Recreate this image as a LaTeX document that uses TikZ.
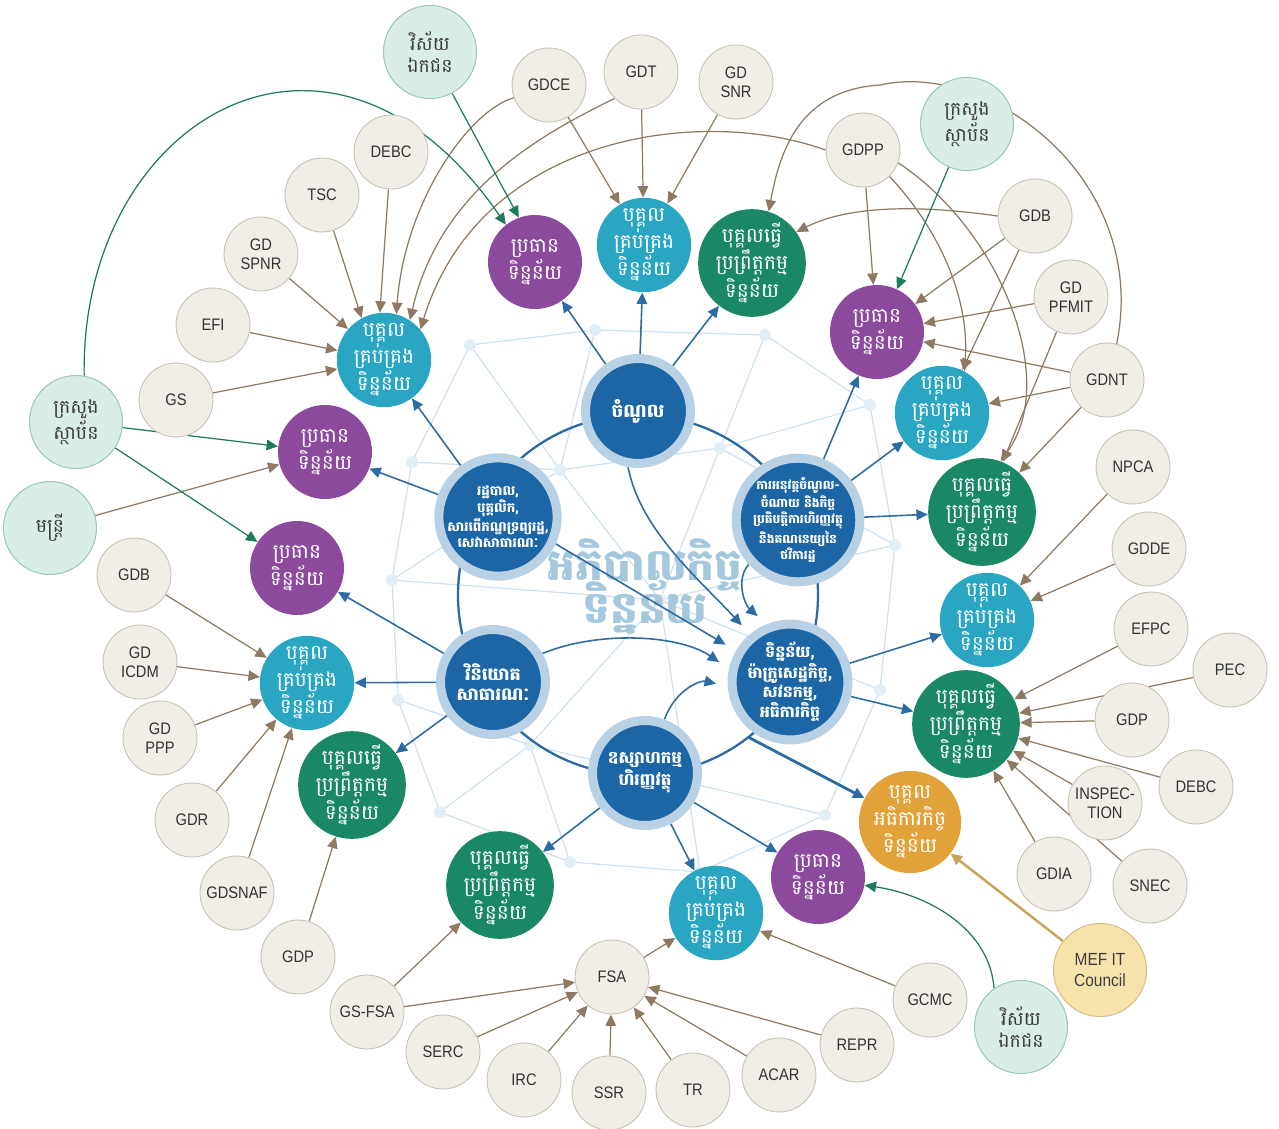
\documentclass[tikz,border=0pt]{standalone}
\usepackage{fontspec}
\setmainfont{Liberation Sans}
\newfontfamily\khmer[Script=Khmer]{Battambang}
\newfontfamily\deptfont[FakeStretch=0.88]{Liberation Sans}
\usetikzlibrary{arrows.meta,backgrounds}

\definecolor{hubblue}{HTML}{1C66A6}
\definecolor{hubring}{HTML}{B8D1E5}
\definecolor{ringline}{HTML}{2A68A8}
\definecolor{ownerpurple}{HTML}{8B4A9C}
\definecolor{stewardcyan}{HTML}{2AA6C3}
\definecolor{procgreen}{HTML}{1A8866}
\definecolor{inspgold}{HTML}{E2A23A}
\definecolor{outfill}{HTML}{DBEEE5}
\definecolor{outline}{HTML}{9CCAB8}
\definecolor{outtext}{HTML}{3D3D3D}
\definecolor{deptfill}{HTML}{F1EEE8}
\definecolor{deptline}{HTML}{C8C2B6}
\definecolor{depttext}{HTML}{333333}
\definecolor{arrowbrown}{HTML}{8E7A63}
\definecolor{arrowgreen}{HTML}{1D7A5F}
\definecolor{arrowblue}{HTML}{2C6CA3}
\definecolor{councilgold}{HTML}{C6A45A}
\definecolor{councilfill}{HTML}{F6E3AB}
\definecolor{meshblue}{HTML}{CFE2EF}
\definecolor{wmblue}{HTML}{A6C8DC}

\begin{document}
\begin{tikzpicture}[x=0.02cm,y=-0.02cm,
  hub/.style={circle,fill=hubblue,draw=hubring,line width=0.18cm,minimum size=2.1cm,
    inner sep=0pt,align=center,text=white,font=\khmer\bfseries\fontsize{9}{11}\selectfont},
  role/.style={circle,minimum size=1.88cm,inner sep=0pt,align=center,text=white,
    font=\khmer\fontsize{11.5}{12.5}\selectfont},
  owner/.style={role,fill=ownerpurple},
  steward/.style={role,fill=stewardcyan},
  processor/.style={role,fill=procgreen},
  inspector/.style={role,fill=inspgold},
  outside/.style={circle,minimum size=1.86cm,inner sep=0pt,align=center,fill=outfill,
    draw=outline,line width=0.6pt,text=outtext,font=\khmer\fontsize{10.8}{13}\selectfont},
  council/.style={outside,fill=councilfill,draw=councilgold!70,
    font=\deptfont\fontsize{10}{12}\selectfont},
  dept/.style={circle,minimum size=1.48cm,inner sep=0pt,align=center,fill=deptfill,
    draw=deptline,line width=0.5pt,text=depttext,font=\deptfont\fontsize{9.5}{11}\selectfont},
  deptarrow/.style={draw=arrowbrown,line width=0.7pt,-{Triangle[length=6.5pt,width=6pt]}},
  outarrow/.style={deptarrow,draw=arrowgreen},
  hubarrow/.style={deptarrow,draw=arrowblue,line width=0.9pt},
  councilarrow/.style={deptarrow,draw=councilgold,line width=1.4pt},
  mesh/.style={draw=meshblue,line width=0.7pt}]

\useasboundingbox (0,0) rectangle (1279,1129);

\node[hub,font=\khmer\bfseries\fontsize{10.5}{12}\selectfont] (rev) at (638,411) {ចំណូល};
\node[hub,font=\khmer\bfseries\fontsize{7.6}{9.4}\selectfont] (adm) at (498,517)
  {រដ្ឋបាល,\\បុគ្គលិក,\\សារពើភណ្ឌទ្រព្យរដ្ឋ,\\សេវាសាធារណៈ};
\node[hub,font=\khmer\bfseries\fontsize{7}{7.6}\selectfont] (exe) at (798,520)
  {ការអនុវត្តចំណូល-\\ចំណាយ និងកិច្ច\\ប្រតិបត្តិការហិរញ្ញវត្ថុ\\និងគណនេយ្យនៃ\\ថវិការដ្ឋ};
\node[hub,font=\khmer\bfseries\fontsize{10}{11}\selectfont] (inv) at (493,682) {វិនិយោគ\\សាធារណៈ};
\node[hub,minimum size=2.16cm,font=\khmer\bfseries\fontsize{9}{10.6}\selectfont] (dat) at (790,682)
  {ទិន្នន័យ,\\ម៉ាក្រូសេដ្ឋកិច្ច,\\សវនកម្ម,\\អធិការកិច្ច};
\node[hub,font=\khmer\bfseries\fontsize{9.5}{11}\selectfont] (fin) at (645,773) {ឧស្សាហកម្ម\\ហិរញ្ញវត្ថុ};

\node[owner] (ownA) at (535,262) {ប្រធាន\\ទិន្នន័យ};
\node[owner] (ownB) at (877,332) {ប្រធាន\\ទិន្នន័យ};
\node[owner] (ownC) at (325,452) {ប្រធាន\\ទិន្នន័យ};
\node[owner] (ownD) at (297,568) {ប្រធាន\\ទិន្នន័យ};
\node[owner] (ownE) at (818,877) {ប្រធាន\\ទិន្នន័យ};

\node[steward] (stwA) at (644,245) {បុគ្គល\\គ្រប់គ្រង\\ទិន្នន័យ};
\node[steward] (stwB) at (384,360) {បុគ្គល\\គ្រប់គ្រង\\ទិន្នន័យ};
\node[steward] (stwC) at (942,413) {បុគ្គល\\គ្រប់គ្រង\\ទិន្នន័យ};
\node[steward] (stwD) at (987,620) {បុគ្គល\\គ្រប់គ្រង\\ទិន្នន័យ};
\node[steward] (stwE) at (307,683) {បុគ្គល\\គ្រប់គ្រង\\ទិន្នន័យ};
\node[steward] (stwF) at (716,913) {បុគ្គល\\គ្រប់គ្រង\\ទិន្នន័យ};

\node[processor] (prcA) at (752,263) {បុគ្គលធ្វើ\\ប្រព្រឹត្តកម្ម\\ទិន្នន័យ};
\node[processor] (prcB) at (982,512) {បុគ្គលធ្វើ\\ប្រព្រឹត្តកម្ម\\ទិន្នន័យ};
\node[processor] (prcC) at (966,724) {បុគ្គលធ្វើ\\ប្រព្រឹត្តកម្ម\\ទិន្នន័យ};
\node[processor] (prcD) at (352,785) {បុគ្គលធ្វើ\\ប្រព្រឹត្តកម្ម\\ទិន្នន័យ};
\node[processor] (prcE) at (500,885) {បុគ្គលធ្វើ\\ប្រព្រឹត្តកម្ម\\ទិន្នន័យ};

\node[inspector] (insp) at (910,822) {បុគ្គល\\អធិការកិច្ច\\ទិន្នន័យ};

\node[outside] (pvtA) at (430,52) {វិស័យ\\ឯកជន};
\node[outside] (minA) at (967,124) {ក្រសួង\\ស្ថាប័ន};
\node[outside] (minB) at (76,422) {ក្រសួង\\ស្ថាប័ន};
\node[outside] (off) at (50,528) {មន្ត្រី};
\node[outside] (pvtB) at (1021,1027) {វិស័យ\\ឯកជន};
\node[council] (mef) at (1100,970) {MEF IT\\Council};

\node[dept] (gdce) at (549,85) {GDCE};
\node[dept] (gdt) at (641,72) {GDT};
\node[dept] (gdsnr) at (736,82) {GD\\SNR};
\node[dept] (gdpp) at (863,150) {GDPP};
\node[dept] (gdbR) at (1035,216) {GDB};
\node[dept] (gdpfmit) at (1071,297) {GD\\PFMIT};
\node[dept] (gdnt) at (1107,380) {GDNT};
\node[dept] (npca) at (1133,467) {NPCA};
\node[dept] (gdde) at (1149,549) {GDDE};
\node[dept] (efpc) at (1151,629) {EFPC};
\node[dept] (pec) at (1230,670) {PEC};
\node[dept] (gdpR) at (1132,720) {GDP};
\node[dept] (debcR) at (1196,787) {DEBC};
\node[dept] (inspec) at (1105,803) {INSPEC-\\TION};
\node[dept] (snec) at (1150,886) {SNEC};
\node[dept] (gdia) at (1054,874) {GDIA};
\node[dept] (gcmc) at (930,1000) {GCMC};
\node[dept] (repr) at (857,1045) {REPR};
\node[dept] (acar) at (779,1075) {ACAR};
\node[dept] (tr) at (693,1090) {TR};
\node[dept] (ssr) at (609,1093) {SSR};
\node[dept] (irc) at (524,1080) {IRC};
\node[dept] (serc) at (443,1052) {SERC};
\node[dept] (gsfsa) at (367,1012) {GS-FSA};
\node[dept] (fsa) at (612,977) {FSA};
\node[dept] (gdpL) at (298,957) {GDP};
\node[dept] (gdsnaf) at (237,893) {GDSNAF};
\node[dept] (gdr) at (192,820) {GDR};
\node[dept] (gdppp) at (160,738) {GD\\PPP};
\node[dept] (gdicdm) at (140,662) {GD\\ICDM};
\node[dept] (gdbL) at (134,575) {GDB};
\node[dept] (gs) at (176,400) {GS};
\node[dept] (efi) at (213,325) {EFI};
\node[dept] (gdspnr) at (261,254) {GD\\SPNR};
\node[dept] (tsc) at (322,195) {TSC};
\node[dept] (debcL) at (391,152) {DEBC};

\coordinate (ringpt) at (748,737);

\begin{scope}[on background layer]
  \draw[mesh] (470,345) -- (595,330) -- (765,335) -- (870,405) -- (895,545) -- (880,690)
    -- (825,815) -- (700,872) -- (570,862) -- (440,812) -- (398,700) -- (392,580) -- (412,462) -- cycle;
  \draw[mesh] (470,345) -- (560,470) -- (720,448) -- (870,405);
  \draw[mesh] (595,330) -- (560,470) -- (412,462);
  \draw[mesh] (765,335) -- (720,448) -- (895,545);
  \draw[mesh] (392,580) -- (560,470) -- (660,600) -- (720,448);
  \draw[mesh] (660,600) -- (880,690);
  \draw[mesh] (398,700) -- (530,745) -- (660,600);
  \draw[mesh] (530,745) -- (570,862);
  \draw[mesh] (660,600) -- (700,872);
  \draw[mesh] (440,812) -- (530,745) -- (825,815);
  \draw[mesh] (895,545) -- (660,600) -- (392,580);
  \foreach \p in {(470,345),(595,330),(765,335),(870,405),(895,545),(880,690),(825,815),
      (700,872),(570,862),(440,812),(398,700),(392,580),(412,462),(560,470),(720,448),(660,600),(530,745)}
    \fill[meshblue!60] \p circle (6);

  \node[text=wmblue,font=\khmer\bfseries\fontsize{25}{28}\selectfont] (wmA) at (645,565) {អភិបាលកិច្ច};
  \node[text=wmblue,font=\khmer\bfseries\fontsize{25}{28}\selectfont] (wmB) at (645,607) {ទិន្នន័យ};

  \draw[ringline,line width=1.3pt] (638,595) circle (180);

  \foreach \a/\b in {gdce/stwA,gdt/stwA,gdsnr/stwA,
      gdpp/ownB,gdbR/ownB,gdpfmit/ownB,gdnt/ownB,
      gdbR/stwC,gdnt/stwC,gdpfmit/prcB,gdnt/prcB,
      npca/stwD,gdde/stwD,
      efpc/prcC,pec/prcC,gdpR/prcC,debcR/prcC,inspec/prcC,snec/prcC,gdia/prcC,
      gcmc/stwF,fsa/stwF,gsfsa/prcE,gsfsa/fsa,serc/fsa,irc/fsa,ssr/fsa,tr/fsa,acar/fsa,repr/fsa,
      gdpL/prcD,gdsnaf/stwE,gdr/stwE,gdppp/stwE,gdicdm/stwE,gdbL/stwE,
      gs/stwB,efi/stwB,gdspnr/stwB,tsc/stwB.118,debcL/stwB.95,off/ownC}
    \draw[deptarrow] (\a) -- (\b);

  \draw[deptarrow] (gdce.200) .. controls (470,110) and (405,200) .. (stwB.75);
  \draw[deptarrow] (gdt.225) .. controls (540,135) and (440,190) .. (stwB.57);
  \draw[deptarrow] (gdpp.180) .. controls (700,105) and (480,135) .. (stwB.40);
  \draw[deptarrow] (gdbR.180) .. controls (920,205) and (850,205) .. (prcA.35);
  \draw[deptarrow] (gdnt.75) .. controls (1150,180) and (990,60) .. (880,85)
    .. controls (800,90) and (780,150) .. (prcA.72);
  \draw[deptarrow] (gdpp.-45) .. controls (940,230) and (970,300) .. (stwC.62);
  \draw[deptarrow] (gdpp.-20) .. controls (1000,230) and (1060,380) .. (prcB.70);

  \draw[outarrow] (pvtA) -- (ownA.110);
  \draw[outarrow] (minB.80) .. controls (80,120) and (330,-30) .. (ownA.128);
  \draw[outarrow] (minB) -- (ownC);
  \draw[outarrow] (minB) -- (ownD);
  \draw[outarrow] (minA) -- (ownB.65);
  \draw[outarrow] (pvtB.125) .. controls (990,930) and (930,895) .. (ownE.-10);

  \draw[councilarrow] (mef) -- (insp);

  \foreach \a/\b in {rev/ownA,rev/stwA,rev/prcA,adm/stwB,adm/ownC,
      inv/ownD,inv/stwE,inv/prcD,exe/ownB,exe/stwC,exe/prcB,
      dat/stwD,dat/prcC,fin/prcE,fin/stwF,fin/ownE}
    \draw[hubarrow] (\a) -- (\b);
  \draw[hubarrow,line width=1.6pt] (ringpt) -- (insp);

  \draw[hubarrow,shorten >=0.24cm] (rev.-100) .. controls (640,530) and (700,580) .. (dat.130);
  \draw[hubarrow,shorten >=0.24cm] (exe.222) .. controls (735,580) and (745,605) .. (dat.112);
  \draw[hubarrow,shorten >=0.24cm] (adm.-25) -- (dat.150);
  \draw[hubarrow,shorten >=0.24cm] (inv.30) .. controls (600,630) and (680,635) .. (dat.168);
  \draw[hubarrow,shorten >=0.24cm] (fin.70) .. controls (675,690) and (700,680) .. (dat.184);
\end{scope}
\end{tikzpicture}
\end{document}
